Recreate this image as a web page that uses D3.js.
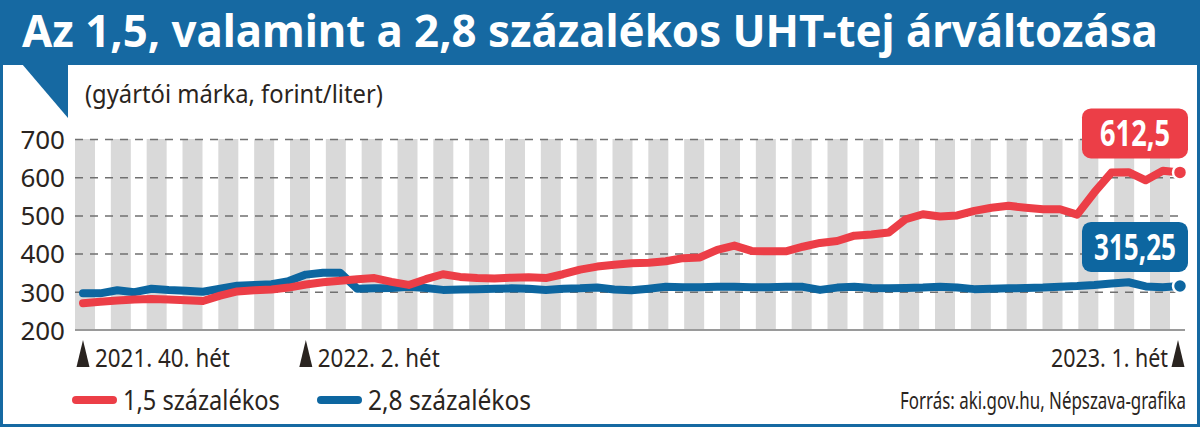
<!DOCTYPE html>
<html>
<head>
<meta charset="utf-8">
<script src="https://cdn.jsdelivr.net/npm/d3@7"></script>
<style>
  html, body { margin: 0; padding: 0; background: #fff; }
  svg { display: block; font-family: "Noto Sans", sans-serif; }
</style>
</head>
<body>
<div id="chart"></div>
<script>
// Weekly prices, 2021. 40. hét – 2023. 1. hét (forint/liter)
const red15 = [
	270, 274, 277, 280, 281, 280, 278, 276, 290, 301, 304, 306, 311,
	319, 325, 329, 333, 336, 326, 318, 333, 346, 339, 336, 335, 337,
	338, 336, 346, 358, 366, 371, 375, 376, 380, 388, 390, 410, 421,
	407, 406, 406, 418, 428, 433, 447, 450, 455, 490, 503, 497, 500,
	512, 520, 525, 520, 516, 516, 502, 560, 612, 613, 592, 617, 612.5
];
const blue28 = [
	296, 296, 304, 299, 308, 305, 303, 300, 308, 316, 318, 320, 328,
	345, 350, 350, 308, 309, 310, 313, 310, 305, 306, 307, 308, 309,
	308, 305, 308, 309, 311, 306, 304, 308, 313, 312, 312, 313, 313,
	312, 312, 313, 313, 305, 311, 313, 310, 309, 310, 311, 313, 311,
	307, 308, 309, 310, 311, 313, 315, 318, 322, 325, 314, 312, 315.25
];
const yTicks = [200, 300, 400, 500, 600, 700];
const weekLabels = ["2021. 40. hét", "2022. 2. hét", "2023. 1. hét"];
const weekIndex = [0, 13, 64];
const seriesNames = ["1,5 százalékos", "2,8 százalékos"];
const stripeCount = 31;

const W = 1200;
const H = 427;
const BLUE = "#1669a2";
const LINE_BLUE = "#0d66a0";
const RED = "#ec3e47";
const INK = "#2a2420";

const svg = d3
	.select("#chart")
	.append("svg")
	.attr("width", W)
	.attr("height", H);

const x = d3.scaleLinear().domain([0, red15.length - 1]).range([83, 1180]);
const y = d3.scaleLinear().domain([200, 700]).range([330, 139]);
const stripes = d3
	.scaleBand()
	.domain(d3.range(stripeCount))
	.range([75, 1170])
	.paddingInner(0.442)
	.paddingOuter(0);

const huFormat = d3.formatLocale({
	decimal: ",",
	thousands: " ",
	grouping: [3],
	currency: ["", " Ft"],
}).format("~f");

// Text squeezed horizontally to a given width (the original uses a condensed face)
const fitText = (parent, o) => {
	const t = parent
		.append("text")
		.attr("fill", o.fill || INK)
		.attr("font-size", o.size)
		.attr("font-weight", o.weight || 400)
		.attr("text-anchor", o.anchor || "start")
		.attr("dy", o.dy || null)
		.text(o.text);
	const k = o.width / t.node().getComputedTextLength();
	t.attr("transform", `translate(${o.x},${o.y}) scale(${k},1)`);
	return t;
};

// Title bar
svg.append("rect").attr("width", W).attr("height", 65).attr("fill", BLUE);
fitText(svg, {
	x: 22,
	y: 47,
	size: 45,
	weight: 700,
	fill: "#fff",
	width: 1136,
	text: "Az 1,5, valamint a 2,8 százalékos UHT-tej árváltozása",
});

// Tab under title
svg
	.append("path")
	.attr("d", "M22,64 L68,64 L68,118 Z")
	.attr("fill", BLUE);

// Subtitle
fitText(svg, { x: 85, y: 103, size: 25, width: 298, text: "(gyártói márka, forint/liter)" });

// Stripes
svg
	.append("g")
	.selectAll("rect")
	.data(stripes.domain())
	.join("rect")
	.attr("x", (d) => stripes(d))
	.attr("y", y(700))
	.attr("width", stripes.bandwidth())
	.attr("height", y(200) - y(700))
	.attr("fill", "#d9d9d9");

// Grid lines
const grid = svg
	.append("g")
	.attr("transform", "translate(75,0)")
	.call(
		d3
			.axisRight(y)
			.tickValues(yTicks.filter((t) => t > 200))
			.tickSize(1110)
			.tickFormat("")
	);
grid.select(".domain").remove();
grid
	.selectAll("line")
	.attr("stroke", "#707070")
	.attr("stroke-width", 1.5)
	.attr("stroke-dasharray", "8,7");

svg
	.append("line")
	.attr("x1", 75)
	.attr("x2", 1185)
	.attr("y1", y(200))
	.attr("y2", y(200))
	.attr("stroke", "#9a9a9a")
	.attr("stroke-width", 2);

// Y axis labels
const yAxis = svg
	.append("g")
	.attr("transform", "translate(65,0)")
	.call(d3.axisLeft(y).tickValues(yTicks).tickSize(0).tickPadding(0));
yAxis.select(".domain").remove();
yAxis
	.selectAll("text")
	.attr("fill", INK)
	.attr("font-size", 26)
	.attr("font-family", "'Noto Sans', sans-serif")
	.attr("dy", "0.36em");

// Lines
const line = d3
	.line()
	.x((d, i) => x(i))
	.y((d) => y(d));

const series = [
	{ values: blue28, color: LINE_BLUE },
	{ values: red15, color: RED },
];

svg
	.append("g")
	.selectAll("path")
	.data(series)
	.join("path")
	.attr("d", (d) => line(d.values))
	.attr("fill", "none")
	.attr("stroke", (d) => d.color)
	.attr("stroke-width", 8)
	.attr("stroke-linejoin", "round")
	.attr("stroke-linecap", "round");

// End dots and value boxes
series.forEach((s) => {
	const last = s.values.length - 1;
	const cx = x(last);
	const cy = y(s.values[last]);
	svg
		.append("circle")
		.attr("cx", cx)
		.attr("cy", cy)
		.attr("r", 7)
		.attr("fill", s.color)
		.attr("stroke", "#fff")
		.attr("stroke-width", 2.5);

	const boxW = 106;
	const boxH = 50;
	const bx = cx + 8 - boxW;
	const by = cy - 14 - boxH;
	const label = huFormat(s.values[last]);
	svg
		.append("rect")
		.attr("x", bx)
		.attr("y", by)
		.attr("width", boxW)
		.attr("height", boxH)
		.attr("rx", 9)
		.attr("fill", s.color);
	fitText(svg, {
		x: bx + boxW / 2,
		y: by + boxH / 2,
		dy: "0.36em",
		anchor: "middle",
		fill: "#fff",
		size: 35,
		weight: 700,
		width: label.length > 5 ? 82 : 70,
		text: label,
	});
});

// Week markers
const marks = svg
	.append("g")
	.selectAll("g")
	.data(weekLabels.map((t, i) => ({ t, i: weekIndex[i], last: i === weekLabels.length - 1 })))
	.join("g");

marks
	.append("path")
	.attr("d", "M0,-27 L6.5,0 L-6.5,0 Z")
	.attr("fill", INK)
	.attr("transform", (d) => `translate(${d.last ? x(d.i) - 2 : x(d.i)},367)`);

marks.each(function (d) {
	fitText(d3.select(this), {
		x: d.last ? x(d.i) - 12 : x(d.i) + 12,
		y: 367,
		anchor: d.last ? "end" : "start",
		size: 26,
		width: d.i === 0 ? 135 : d.last ? 117 : 122,
		text: d.t,
	});
});

// Legend
const legend = svg
	.append("g")
	.selectAll("g")
	.data(seriesNames.map((n, i) => ({ n, color: series[1 - i].color, x0: i === 0 ? 72 : 317, w: i === 0 ? 157 : 163 })))
	.join("g");

legend
	.append("line")
	.attr("x1", (d) => d.x0 + 4)
	.attr("x2", (d) => d.x0 + 41)
	.attr("y1", 400)
	.attr("y2", 400)
	.attr("stroke", (d) => d.color)
	.attr("stroke-width", 8)
	.attr("stroke-linecap", "round");

legend.each(function (d) {
	fitText(d3.select(this), { x: d.x0 + 51, y: 410, size: 28, width: d.w, text: d.n });
});

// Source
fitText(svg, {
	x: 1186,
	y: 409,
	anchor: "end",
	size: 24,
	width: 286,
	text: "Forrás: aki.gov.hu, Népszava-grafika",
});

// Frame
svg
	.append("rect")
	.attr("x", 1.5)
	.attr("y", 1.5)
	.attr("width", W - 3)
	.attr("height", H - 3)
	.attr("fill", "none")
	.attr("stroke", BLUE)
	.attr("stroke-width", 3);
</script>
</body>
</html>
